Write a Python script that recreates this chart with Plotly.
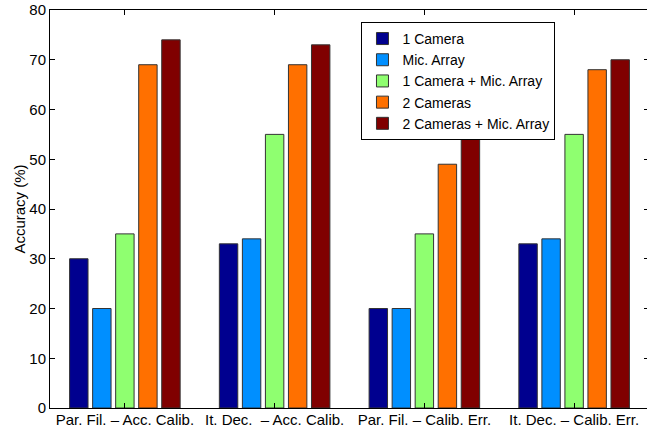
import plotly.graph_objects as go

categories = ["Par. Fil. – Acc. Calib.", "It. Dec.  – Acc. Calib.",
              "Par. Fil. – Calib. Err.", "It. Dec. – Calib. Err."]
series_names = ["1 Camera", "Mic. Array", "1 Camera + Mic. Array",
                "2 Cameras", "2 Cameras + Mic. Array"]
one_camera = [30, 33, 20, 33]
mic_array = [20, 34, 20, 34]
one_camera_mic = [35, 55, 35, 55]
two_cameras = [69, 69, 49, 68]
two_cameras_mic = [74, 73, 54, 70]
colors = ["#00008F", "#008FFF", "#8FFF70", "#FF7000", "#800000"]
y_ticks = [0, 10, 20, 30, 40, 50, 60, 70, 80]

values = [one_camera, mic_array, one_camera_mic, two_cameras, two_cameras_mic]
xpos = [1, 2, 3, 4]

fig = go.Figure()
for name, vals, col in zip(series_names, values, colors):
    fig.add_trace(go.Bar(x=xpos, y=vals, name=name,
                         marker=dict(color=col, line=dict(color="#333333", width=1))))

font = "Liberation Sans, Arial, sans-serif"
fig.update_layout(
    width=650, height=428,
    margin=dict(l=50, r=1, t=10, b=20, autoexpand=False),
    paper_bgcolor="white", plot_bgcolor="white",
    barmode="group", bargap=0.231, bargroupgap=0.2,
    font=dict(family=font, size=14, color="black"),
    showlegend=True,
    legend=dict(x=0.52, y=0.97, xanchor="left", yanchor="top",
                bgcolor="white", bordercolor="black", borderwidth=1,
                font=dict(size=14), itemwidth=30, tracegroupgap=0,
                traceorder="normal"),
    xaxis=dict(range=[0.5, 4.5], tickmode="array", tickvals=xpos, ticktext=categories,
               ticks="inside", ticklen=5, tickcolor="black", showline=True,
               linecolor="black", linewidth=1, mirror="ticks", showgrid=False,
               zeroline=False, tickfont=dict(size=15), automargin=False,
               ticklabelstandoff=-2),
    yaxis=dict(range=[0, 80], tickmode="array", tickvals=y_ticks,
               ticks="inside", ticklen=5, tickcolor="black", showline=True,
               linecolor="black", linewidth=1, mirror="ticks", showgrid=False,
               zeroline=False, tickfont=dict(size=15), automargin=False,
               title=dict(text="Accuracy (%)", font=dict(size=15), standoff=0)),
)
fig.write_html("out.html", config={"displayModeBar": False},
               post_script="document.body.style.margin='0';document.body.style.overflow='hidden';")
